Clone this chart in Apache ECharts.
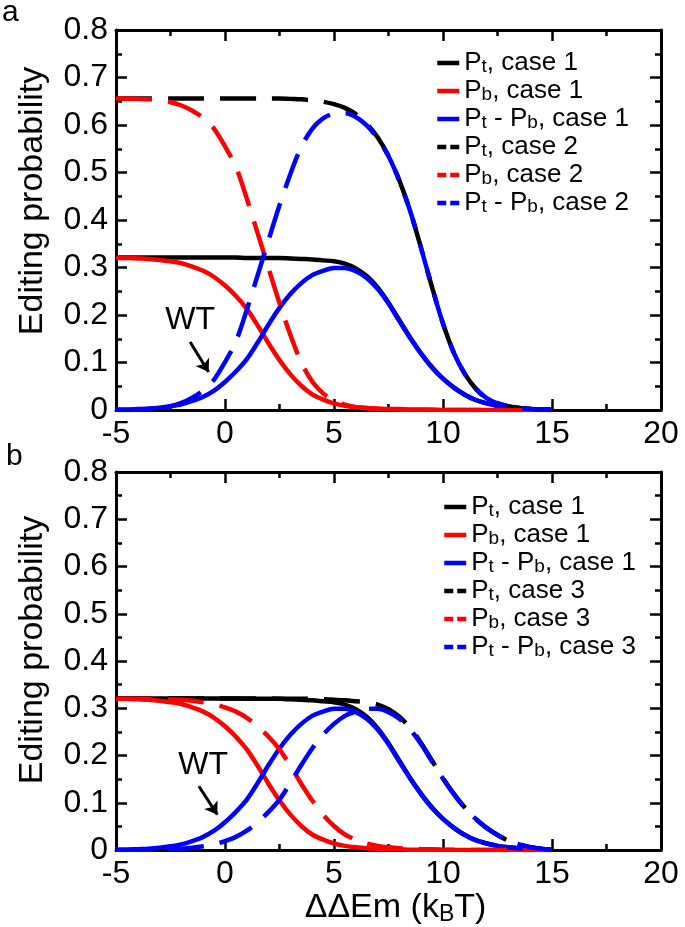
<!DOCTYPE html>
<html>
<head>
<meta charset="utf-8">
<script src="https://cdn.jsdelivr.net/npm/echarts@6/dist/echarts.min.js"></script>
<style>
    html, body { margin: 0; padding: 0; background: #fff; }
    #chart { width: 685px; height: 927px; }
</style>
</head>
<body>
<div id="chart"></div>
<script>
// x positions (ΔΔEm, kBT) shared by every curve
var xVals = [-5, -4.5, -4, -3.5, -3, -2.5, -2, -1.5, -1, -0.5,
    0, 0.5, 1, 1.5, 2, 2.5, 3, 3.5, 4, 4.5,
    5, 5.5, 6, 6.5, 7, 7.5, 8, 8.5, 9, 9.5,
    10, 10.5, 11, 11.5, 12, 12.5, 13, 13.5, 14, 14.5, 15];

// case 1 (both panels)
var ptCase1 = [0.321, 0.321, 0.321, 0.321, 0.321, 0.321, 0.321, 0.321, 0.321, 0.321,
    0.321, 0.321, 0.320, 0.320, 0.320, 0.320, 0.319, 0.318, 0.317, 0.315,
    0.313, 0.308, 0.298, 0.282, 0.258, 0.226, 0.189, 0.152, 0.119, 0.090,
    0.066, 0.047, 0.032, 0.021, 0.014, 0.009, 0.006, 0.004, 0.002, 0.001, 0.001];
var pbCase1 = [0.320, 0.320, 0.319, 0.318, 0.316, 0.313, 0.309, 0.302, 0.293, 0.280,
    0.262, 0.240, 0.213, 0.178, 0.140, 0.105, 0.075, 0.051, 0.033, 0.022,
    0.014, 0.009, 0.006, 0.004, 0.003, 0.002, 0.002, 0.001, 0.001, 0.001,
    0, 0, 0, 0, 0, 0, 0, 0, 0, 0, 0];
var diffCase1 = [0.001, 0.001, 0.002, 0.003, 0.005, 0.008, 0.012, 0.019, 0.028, 0.041,
    0.059, 0.081, 0.107, 0.142, 0.180, 0.215, 0.244, 0.267, 0.284, 0.293,
    0.299, 0.299, 0.292, 0.278, 0.255, 0.224, 0.187, 0.151, 0.118, 0.089,
    0.066, 0.047, 0.032, 0.021, 0.014, 0.009, 0.006, 0.004, 0.002, 0.001, 0.001];

// case 2 (panel a, dashed)
var ptCase2 = [0.656, 0.656, 0.656, 0.656, 0.656, 0.656, 0.656, 0.656, 0.656, 0.656,
    0.656, 0.656, 0.656, 0.656, 0.656, 0.656, 0.655, 0.654, 0.652, 0.649,
    0.644, 0.636, 0.623, 0.603, 0.574, 0.535, 0.483, 0.418, 0.340, 0.258,
    0.182, 0.120, 0.076, 0.045, 0.025, 0.014, 0.008, 0.004, 0.002, 0.001, 0];
var pbCase2 = [0.656, 0.656, 0.655, 0.654, 0.652, 0.648, 0.641, 0.630, 0.615, 0.592,
    0.555, 0.512, 0.445, 0.372, 0.298, 0.225, 0.158, 0.100, 0.060, 0.035,
    0.020, 0.011, 0.006, 0.004, 0.002, 0.001, 0.001, 0, 0, 0,
    0, 0, 0, 0, 0, 0, 0, 0, 0, 0, 0];
var diffCase2 = [0, 0, 0.001, 0.002, 0.004, 0.008, 0.015, 0.026, 0.041, 0.064,
    0.101, 0.144, 0.211, 0.284, 0.358, 0.431, 0.497, 0.554, 0.592, 0.614,
    0.624, 0.625, 0.617, 0.599, 0.572, 0.534, 0.482, 0.418, 0.340, 0.258,
    0.182, 0.120, 0.076, 0.045, 0.025, 0.014, 0.008, 0.004, 0.002, 0.001, 0];

// case 3 (panel b, dashed)
var ptCase3 = [0.321, 0.321, 0.321, 0.321, 0.321, 0.321, 0.321, 0.321, 0.321, 0.321,
    0.321, 0.321, 0.321, 0.321, 0.321, 0.320, 0.320, 0.320, 0.320, 0.319,
    0.318, 0.317, 0.315, 0.313, 0.308, 0.298, 0.282, 0.258, 0.226, 0.189,
    0.152, 0.119, 0.090, 0.066, 0.047, 0.032, 0.020, 0.012, 0.006, 0.003, 0.001];
var pbCase3 = [0.320, 0.320, 0.320, 0.320, 0.320, 0.319, 0.318, 0.316, 0.313, 0.309,
    0.302, 0.293, 0.280, 0.262, 0.240, 0.213, 0.178, 0.140, 0.105, 0.075,
    0.051, 0.033, 0.022, 0.014, 0.009, 0.006, 0.004, 0.003, 0.002, 0.002,
    0.001, 0.001, 0.001, 0, 0, 0, 0, 0, 0, 0, 0];
var diffCase3 = [0.001, 0.001, 0.001, 0.001, 0.001, 0.002, 0.003, 0.005, 0.008, 0.012,
    0.019, 0.028, 0.041, 0.059, 0.081, 0.107, 0.142, 0.180, 0.215, 0.244,
    0.267, 0.284, 0.293, 0.299, 0.299, 0.292, 0.278, 0.255, 0.224, 0.187,
    0.151, 0.118, 0.089, 0.066, 0.047, 0.032, 0.020, 0.012, 0.006, 0.003, 0.001];

var FONT = 'Liberation Sans, Arial, sans-serif';
var DASH = [36, 16];

var myChart = echarts.init(document.getElementById('chart'));

function pairs(ys) {
    return xVals.map(function (x, i) { return [x, ys[i]]; });
}

function curve(name, ys, color, dashed, axisIdx) {
    return {
        name: name,
        type: 'line',
        xAxisIndex: axisIdx,
        yAxisIndex: axisIdx,
        data: pairs(ys),
        smooth: 0.3,
        symbol: 'none',
        lineStyle: { color: color, width: 4.5, type: dashed ? DASH : 'solid' },
        itemStyle: { color: color }
    };
}

function xAx(gridIdx, pos) {
    return {
        type: 'value', gridIndex: gridIdx, position: pos,
        min: -5, max: 20, interval: 5,
        axisLine: { onZero: false, lineStyle: { color: '#000', width: 3 } },
        axisTick: { inside: true, length: 11, lineStyle: { color: '#000', width: 2.5 } },
        minorTick: { show: true, splitNumber: 2, length: 6, lineStyle: { color: '#000', width: 2.5 } },
        axisLabel: { show: pos === 'bottom', fontSize: 32, fontFamily: FONT, color: '#000', margin: 8 },
        splitLine: { show: false }
    };
}

function yAx(gridIdx, pos, namePad) {
    return {
        type: 'value', gridIndex: gridIdx, position: pos,
        min: 0, max: 0.8, interval: 0.1,
        name: pos === 'left' ? 'Editing probability' : '',
        nameLocation: 'middle',
        nameGap: 66,
        nameTextStyle: { fontSize: 34, fontFamily: FONT, color: '#000', padding: namePad },
        axisLine: { onZero: false, lineStyle: { color: '#000', width: 3 } },
        axisTick: { inside: true, length: 11, lineStyle: { color: '#000', width: 2.5 } },
        minorTick: { show: true, splitNumber: 2, length: 6, lineStyle: { color: '#000', width: 2.5 } },
        axisLabel: { show: pos === 'left', fontSize: 32, fontFamily: FONT, color: '#000', margin: 8 },
        splitLine: { show: false }
    };
}

function legendFor(left, top, names) {
    return {
        orient: 'vertical',
        left: left,
        top: top,
        itemWidth: 22,
        itemHeight: 14,
        itemGap: 2,
        itemStyle: { opacity: 0 },
        lineStyle: { width: 4.5 },
        data: names.map(function (n, i) {
            return i < 3 ? { name: n } : { name: n, lineStyle: { type: [9, 4] } };
        }),
        formatter: function (name) {
            return name.replace(/P([tb])/g, '{p|P}{s|$1}');
        },
        textStyle: {
            fontSize: 26, fontFamily: FONT, color: '#000', lineHeight: 26,
            rich: {
                p: { fontSize: 26, fontFamily: FONT, color: '#000', lineHeight: 26 },
                s: { fontSize: 19, fontFamily: FONT, color: '#000', lineHeight: 20, verticalAlign: 'bottom' }
            }
        }
    };
}

function wtMarks(tx, ty, ax, ay, bx, by) {
    return {
        markPoint: {
            symbol: 'circle', symbolSize: 0, silent: true,
            data: [{ coord: [tx, ty] }],
            label: { show: true, position: 'inside', formatter: 'WT', fontSize: 32, fontFamily: FONT, color: '#000' }
        },
        markLine: {
            silent: true,
            symbol: ['none', 'arrow'],
            symbolSize: 12,
            lineStyle: { color: '#000', width: 3, type: 'solid' },
            label: { show: false },
            data: [[{ coord: [ax, ay] }, { coord: [bx, by] }]]
        }
    };
}

var namesA = ['Pt, case 1', 'Pb, case 1', 'Pt - Pb, case 1', 'Pt, case 2', 'Pb, case 2', 'Pt - Pb, case 2'];
var namesB = ['Pt, case 1', 'Pb, case 1', 'Pt - Pb, case 1', 'Pt, case 3', 'Pb, case 3', 'Pt - Pb, case 3'];

var ptA = curve(namesA[0], ptCase1, '#000', false, 0);
Object.assign(ptA, wtMarks(-1.6, 0.19, -1.6, 0.143, -0.75, 0.08));
var ptB = curve(namesB[0], ptCase1, '#000', false, 2);
Object.assign(ptB, wtMarks(-1.0, 0.18, -1.2, 0.135, -0.35, 0.075));

var option = {
    backgroundColor: '#fff',
    animation: false,
    textStyle: { fontFamily: FONT },
    grid: [
        { left: 116, top: 30, width: 545, height: 380 },
        { left: 116, top: 472, width: 545, height: 379 }
    ],
    xAxis: [
        xAx(0, 'bottom'), xAx(0, 'top'),
        Object.assign(xAx(1, 'bottom'), {
            name: '{n|ΔΔEm (k}{s|B}{n|T)}',
            nameLocation: 'middle',
            nameGap: 35,
            nameTextStyle: {
                padding: [0, 0, 0, 14],
                rich: {
                    n: { fontSize: 34, fontFamily: FONT, color: '#000', lineHeight: 36 },
                    s: { fontSize: 23, fontFamily: FONT, color: '#000', lineHeight: 25, verticalAlign: 'bottom' }
                }
            }
        }),
        xAx(1, 'top')
    ],
    yAxis: [
        yAx(0, 'left', [0, 0, 0, 38]), yAx(0, 'right'),
        yAx(1, 'left', [0, 0, 0, 22]), yAx(1, 'right')
    ],
    legend: [
        legendFor(430, 45, namesA),
        legendFor(437, 489, namesB)
    ],
    graphic: [
        { type: 'text', left: 2, top: -2, style: { text: 'a', fontSize: 30, fontFamily: FONT, fill: '#000' } },
        { type: 'text', left: 6, top: 442, style: { text: 'b', fontSize: 30, fontFamily: FONT, fill: '#000' } }
    ],
    series: [
        ptA,
        curve(namesA[1], pbCase1, '#ff0000', false, 0),
        curve(namesA[2], diffCase1, '#0000ff', false, 0),
        curve(namesA[3], ptCase2, '#000', true, 0),
        curve(namesA[4], pbCase2, '#ff0000', true, 0),
        curve(namesA[5], diffCase2, '#0000ff', true, 0),
        ptB,
        curve(namesB[1], pbCase1, '#ff0000', false, 2),
        curve(namesB[2], diffCase1, '#0000ff', false, 2),
        curve(namesB[3], ptCase3, '#000', true, 2),
        curve(namesB[4], pbCase3, '#ff0000', true, 2),
        curve(namesB[5], diffCase3, '#0000ff', true, 2)
    ]
};

myChart.setOption(option);
</script>
</body>
</html>
